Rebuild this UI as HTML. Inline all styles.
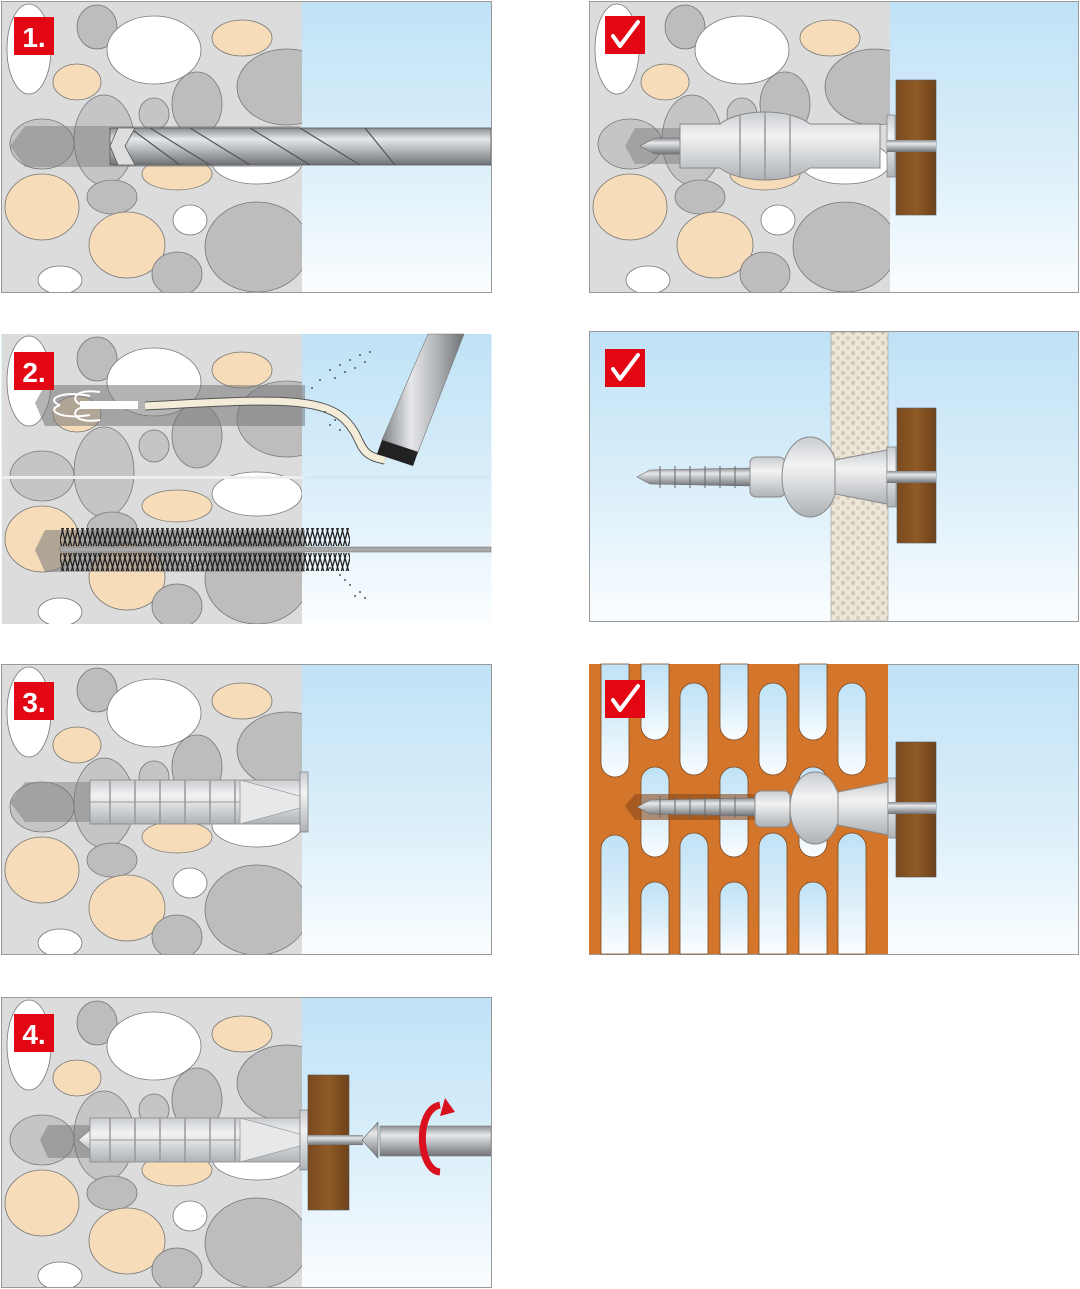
<!DOCTYPE html>
<html><head><meta charset="utf-8"><style>html,body{margin:0;padding:0;background:#fff}svg{display:block}</style></head><body>
<svg width="1080" height="1289" viewBox="0 0 1080 1289" xmlns="http://www.w3.org/2000/svg" font-family="Liberation Sans, sans-serif">
<defs>
<linearGradient id="sky" x1="0" y1="0" x2="0" y2="1"><stop offset="0" stop-color="#bfe2f6"/><stop offset="0.55" stop-color="#dceffa"/><stop offset="1" stop-color="#fafdff"/></linearGradient>
<linearGradient id="metal" x1="0" y1="0" x2="0" y2="1"><stop offset="0" stop-color="#8a8d91"/><stop offset="0.3" stop-color="#e6e8ea"/><stop offset="0.6" stop-color="#b4b7ba"/><stop offset="1" stop-color="#6f7276"/></linearGradient>
<linearGradient id="metalh" x1="0" y1="0" x2="1" y2="0"><stop offset="0" stop-color="#7d8085"/><stop offset="0.35" stop-color="#e6e8ea"/><stop offset="0.65" stop-color="#b4b7ba"/><stop offset="1" stop-color="#6f7276"/></linearGradient>
<linearGradient id="plastic" x1="0" y1="0" x2="0" y2="1"><stop offset="0" stop-color="#c9ccd0"/><stop offset="0.35" stop-color="#f2f3f4"/><stop offset="1" stop-color="#aeb2b6"/></linearGradient>
<linearGradient id="wood" x1="0" y1="0" x2="1" y2="0"><stop offset="0" stop-color="#7a4a1e"/><stop offset="0.5" stop-color="#8f5a26"/><stop offset="1" stop-color="#6e421b"/></linearGradient>
<clipPath id="wc" clipPathUnits="userSpaceOnUse"><rect x="0" y="0" width="300" height="290"/></clipPath>
<pattern id="dots" width="10" height="10" patternUnits="userSpaceOnUse"><rect width="10" height="10" fill="#ece6d8"/><circle cx="3" cy="3" r="2" fill="#cfc6b3"/><circle cx="8" cy="8" r="2" fill="#d6cdbb"/></pattern>
<pattern id="brist" width="5" height="18" patternUnits="userSpaceOnUse"><path d="M0,0 L5,18 M5,0 L0,18" stroke="#1e1e1e" stroke-width="1.3"/></pattern>
<g id="stones" stroke="#777" stroke-width="0.8">
<rect x="0" y="0" width="300" height="290" fill="#dcdcdd" stroke="none"/>
<ellipse cx="27" cy="47" rx="22" ry="45" fill="#fff"/>
<ellipse cx="95" cy="25" rx="20" ry="22" fill="#bdbdbd"/>
<ellipse cx="152" cy="48" rx="47" ry="34" fill="#fff"/>
<ellipse cx="240" cy="36" rx="30" ry="18" fill="#f6dcb9"/>
<ellipse cx="75" cy="80" rx="24" ry="18" fill="#f6dcb9"/>
<ellipse cx="285" cy="85" rx="50" ry="38" fill="#bdbdbd"/>
<ellipse cx="195" cy="102" rx="25" ry="32" fill="#bdbdbd"/>
<ellipse cx="152" cy="112" rx="15" ry="16" fill="#c5c5c5"/>
<ellipse cx="102" cy="138" rx="30" ry="45" fill="#c5c5c5"/>
<ellipse cx="40" cy="142" rx="32" ry="25" fill="#c5c5c5"/>
<ellipse cx="175" cy="172" rx="35" ry="16" fill="#f6dcb9"/>
<ellipse cx="255" cy="160" rx="45" ry="22" fill="#fff"/>
<ellipse cx="40" cy="205" rx="37" ry="33" fill="#f6dcb9"/>
<ellipse cx="110" cy="195" rx="25" ry="17" fill="#bdbdbd"/>
<ellipse cx="188" cy="218" rx="17" ry="15" fill="#fff"/>
<ellipse cx="125" cy="243" rx="38" ry="33" fill="#f6dcb9"/>
<ellipse cx="255" cy="245" rx="52" ry="45" fill="#bdbdbd"/>
<ellipse cx="58" cy="278" rx="22" ry="14" fill="#fff"/>
<ellipse cx="175" cy="272" rx="25" ry="22" fill="#bdbdbd"/>
</g>
<g id="dowel">
<rect x="90" y="-22" width="210" height="44" fill="url(#plastic)" stroke="#888" stroke-width="0.8"/>
<g stroke="#999" stroke-width="1.5"><line x1="110" y1="-22" x2="110" y2="22"/><line x1="135" y1="-22" x2="135" y2="22"/><line x1="160" y1="-22" x2="160" y2="22"/><line x1="185" y1="-22" x2="185" y2="22"/><line x1="210" y1="-22" x2="210" y2="22"/><line x1="235" y1="-22" x2="235" y2="22"/></g>
<line x1="90" y1="0" x2="300" y2="0" stroke="#999" stroke-width="1"/>
<polygon points="240,-22 300,-6 300,6 240,22" fill="#e6e8ea" stroke="#999" stroke-width="0.8"/>
<rect x="300" y="-30" width="8" height="60" fill="url(#plastic)" stroke="#888" stroke-width="0.8"/>
</g>
<g id="badgeck"><rect x="0" y="0" width="40" height="38" fill="#e30613"/><path d="M8,20 L15,30 L33,6" fill="none" stroke="#fff" stroke-width="4" stroke-linejoin="round" stroke-linecap="round"/></g>
</defs>

<!-- LEFT PANEL 1 -->
<rect x="1.5" y="1.5" width="490" height="291" fill="url(#sky)" stroke="#999"/>
<g transform="translate(2,2)" clip-path="url(#wc)"><use href="#stones"/></g>
<polygon points="10,146 25,126 300,126 300,167 25,167" fill="#777" opacity="0.45"/>
<rect x="110" y="128" width="381" height="37" fill="url(#metal)" stroke="#555" stroke-width="0.8"/>
<g stroke="#555" stroke-width="1.2" fill="none"><path d="M150,128 L210,165"/><path d="M190,128 L250,165"/><path d="M250,128 L310,165"/><path d="M300,128 L360,165"/><path d="M365,128 L395,165"/><path d="M130,128 L180,165"/></g>
<polygon points="110,146 118,128 135,128 125,146 135,165 118,165" fill="#ddd" stroke="#555" stroke-width="0.8"/>
<rect x="1.5" y="1.5" width="490" height="291" fill="none" stroke="#999"/>
<rect x="14" y="17" width="40" height="38" fill="#e30613"/><text x="34" y="47" font-size="28" font-weight="bold" fill="#fff" text-anchor="middle">1.</text>

<!-- LEFT PANEL 2 -->
<rect x="1.5" y="334" width="490" height="287" fill="url(#sky)"/>
<g transform="translate(2,334)"><g clip-path="url(#wc)"><use href="#stones"/></g></g>
<rect x="2" y="476" width="303" height="3" fill="#eee"/>
<rect x="305" y="476" width="186" height="3" fill="#d4e8f4"/>
<polygon points="35,403 45,385 305,385 305,426 45,426" fill="#777" opacity="0.55"/>
<path d="M145,406 C260,400 320,395 345,420 C365,440 355,455 385,460" fill="none" stroke="#555" stroke-width="9"/>
<path d="M145,406 C260,400 320,395 345,420 C365,440 355,455 385,460" fill="none" stroke="#f2ecd9" stroke-width="7"/>
<rect x="80" y="401" width="58" height="8" fill="#fff"/>
<g stroke="#fff" stroke-width="2" fill="none"><path d="M90,396 C60,390 45,400 60,405"/><path d="M90,415 C60,420 45,410 60,405"/><path d="M100,392 C75,388 70,400 80,404"/><path d="M100,420 C75,424 70,412 80,408"/></g>
<polygon points="428,334 464,334 418,452 382,440" fill="url(#metalh)" stroke="#777" stroke-width="0.6"/>
<polygon points="382,440 418,452 413,466 377,454" fill="#222"/>
<g fill="#555"><circle cx="320" cy="380" r="1"/><circle cx="330" cy="370" r="1"/><circle cx="340" cy="365" r="1"/><circle cx="350" cy="360" r="1"/><circle cx="360" cy="355" r="1"/><circle cx="335" cy="378" r="1"/><circle cx="345" cy="372" r="1"/><circle cx="355" cy="368" r="1"/><circle cx="365" cy="362" r="1"/><circle cx="370" cy="352" r="1"/><circle cx="312" cy="388" r="1"/><circle cx="325" cy="412" r="1"/><circle cx="335" cy="420" r="1"/><circle cx="340" cy="430" r="1"/><circle cx="330" cy="425" r="1"/><circle cx="320" cy="560" r="1"/><circle cx="330" cy="568" r="1"/><circle cx="340" cy="575" r="1"/><circle cx="350" cy="585" r="1"/><circle cx="360" cy="592" r="1"/><circle cx="345" cy="580" r="1"/><circle cx="365" cy="598" r="1"/><circle cx="355" cy="596" r="1"/></g>
<polygon points="35,550 45,530 305,530 305,572 45,572" fill="#777" opacity="0.55"/>
<rect x="60" y="528" width="290" height="18" fill="url(#brist)"/>
<rect x="60" y="553" width="290" height="18" fill="url(#brist)"/>
<rect x="60" y="547" width="431" height="5" fill="#aaa" stroke="#777" stroke-width="0.6"/>
<rect x="14" y="352" width="40" height="38" fill="#e30613"/><text x="34" y="382" font-size="28" font-weight="bold" fill="#fff" text-anchor="middle">2.</text>

<!-- LEFT PANEL 3 -->
<rect x="1.5" y="664.5" width="490" height="290" fill="url(#sky)" stroke="#999"/>
<g transform="translate(2,665)" clip-path="url(#wc)"><use href="#stones"/></g>
<polygon points="10,802 25,782 100,782 100,822 25,822" fill="#777" opacity="0.45"/>
<use href="#dowel" transform="translate(0,802)"/>
<rect x="1.5" y="664.5" width="490" height="290" fill="none" stroke="#999"/>
<rect x="14" y="682" width="40" height="38" fill="#e30613"/><text x="34" y="712" font-size="28" font-weight="bold" fill="#fff" text-anchor="middle">3.</text>

<!-- LEFT PANEL 4 -->
<rect x="1.5" y="997.5" width="490" height="290" fill="url(#sky)" stroke="#999"/>
<g transform="translate(2,998)" clip-path="url(#wc)"><use href="#stones"/></g>
<polygon points="40,1140 48,1125 90,1125 90,1158 48,1158" fill="#777" opacity="0.5"/>
<polygon points="78,1140 92,1128 118,1128 118,1152 92,1152" fill="url(#plastic)" stroke="#888"/>
<use href="#dowel" transform="translate(0,1140)"/>
<rect x="308" y="1075" width="41" height="135" fill="url(#wood)" stroke="#555" stroke-width="0.6"/>
<rect x="308" y="1135" width="55" height="10" fill="url(#metal)"/>
<polygon points="362,1140 378,1122 378,1158" fill="url(#metal)" stroke="#666" stroke-width="0.6"/>
<rect x="380" y="1126" width="111" height="30" fill="url(#metal)" stroke="#777" stroke-width="0.6"/>
<path d="M440,1105 C415,1110 418,1170 440,1172" fill="none" stroke="#d9101e" stroke-width="7"/>
<polygon points="445,1098 455,1112 440,1116" fill="#d9101e"/>
<rect x="1.5" y="997.5" width="490" height="290" fill="none" stroke="#999"/>
<rect x="14" y="1014" width="40" height="38" fill="#e30613"/><text x="34" y="1044" font-size="28" font-weight="bold" fill="#fff" text-anchor="middle">4.</text>

<!-- RIGHT PANEL 1 -->
<rect x="589.5" y="1.5" width="489" height="291" fill="url(#sky)" stroke="#999"/>
<g transform="translate(590,2)" clip-path="url(#wc)"><use href="#stones"/></g>
<polygon points="625,146 635,128 700,128 700,164 635,164" fill="#777" opacity="0.45"/>
<polygon points="640,146 655,138 690,138 690,154 655,154" fill="url(#metal)" stroke="#666" stroke-width="0.6"/>
<path d="M680,124 L720,124 C740,108 790,108 810,124 L880,124 L880,168 L810,168 C790,184 740,184 720,168 L680,168 Z" fill="url(#plastic)" stroke="#888"/>
<g stroke="#999" stroke-width="1.5"><line x1="740" y1="115" x2="740" y2="177"/><line x1="765" y1="112" x2="765" y2="180"/><line x1="790" y1="115" x2="790" y2="177"/></g>
<rect x="887" y="115" width="8" height="62" fill="url(#plastic)" stroke="#888" stroke-width="0.8"/>
<rect x="896" y="80" width="40" height="135" fill="url(#wood)" stroke="#555" stroke-width="0.6"/>
<rect x="887" y="140" width="49" height="12" fill="url(#metal)"/>
<use href="#badgeck" transform="translate(605,16)"/>

<!-- RIGHT PANEL 2 -->
<rect x="589.5" y="331.5" width="489" height="290" fill="url(#sky)" stroke="#999"/>
<rect x="831" y="332" width="57" height="289" fill="url(#dots)" stroke="#999" stroke-width="0.6"/>
<polygon points="637,477 650,470 750,468 750,486 650,484" fill="url(#metal)" stroke="#666" stroke-width="0.6"/>
<g stroke="#666" stroke-width="1"><line x1="660" y1="466" x2="660" y2="488"/><line x1="675" y1="466" x2="675" y2="488"/><line x1="690" y1="466" x2="690" y2="488"/><line x1="705" y1="466" x2="705" y2="488"/><line x1="720" y1="466" x2="720" y2="488"/><line x1="735" y1="466" x2="735" y2="488"/></g>
<rect x="750" y="457" width="35" height="40" rx="6" fill="url(#plastic)" stroke="#888"/>
<ellipse cx="810" cy="477" rx="28" ry="40" fill="url(#plastic)" stroke="#888"/>
<polygon points="835,460 887,450 887,504 835,494" fill="url(#plastic)" stroke="#888"/>
<rect x="887" y="447" width="9" height="60" fill="url(#plastic)" stroke="#888" stroke-width="0.8"/>
<rect x="897" y="408" width="39" height="135" fill="url(#wood)" stroke="#555" stroke-width="0.6"/>
<rect x="887" y="471" width="49" height="12" fill="url(#metal)"/>
<use href="#badgeck" transform="translate(605,349)"/>

<!-- RIGHT PANEL 3 -->
<rect x="589.5" y="664.5" width="489" height="290" fill="url(#sky)" stroke="#999"/>
<rect x="589" y="664" width="299" height="290" fill="#d3752b"/>
<g fill="url(#sky)" stroke="#7a4a22" stroke-width="0.8">
<path d="M601,664 V763 a14,14 0 0 0 28,0 V664 Z"/><path d="M601,954 V849 a14,14 0 0 1 28,0 V954 Z"/>
<path d="M641,664 V726 a14,14 0 0 0 28,0 V664 Z"/><rect x="641" y="767" width="28" height="90" rx="14"/><path d="M641,954 V896 a14,14 0 0 1 28,0 V954 Z"/>
<rect x="680" y="683" width="28" height="92" rx="14"/><path d="M680,954 V847 a14,14 0 0 1 28,0 V954 Z"/>
<path d="M720,664 V726 a14,14 0 0 0 28,0 V664 Z"/><rect x="720" y="767" width="28" height="90" rx="14"/><path d="M720,954 V896 a14,14 0 0 1 28,0 V954 Z"/>
<rect x="759" y="683" width="28" height="92" rx="14"/><path d="M759,954 V847 a14,14 0 0 1 28,0 V954 Z"/>
<path d="M799,664 V726 a14,14 0 0 0 28,0 V664 Z"/><rect x="799" y="767" width="28" height="90" rx="14"/><path d="M799,954 V896 a14,14 0 0 1 28,0 V954 Z"/>
<rect x="838" y="683" width="28" height="92" rx="14"/><path d="M838,954 V847 a14,14 0 0 1 28,0 V954 Z"/>
</g>
<polygon points="625,806 635,794 760,794 760,820 635,820" fill="#8a4a1a" opacity="0.6"/>
<polygon points="637,807 650,800 755,798 755,816 650,814" fill="url(#metal)" stroke="#666" stroke-width="0.6"/>
<g stroke="#666" stroke-width="1"><line x1="660" y1="796" x2="660" y2="818"/><line x1="675" y1="796" x2="675" y2="818"/><line x1="690" y1="796" x2="690" y2="818"/><line x1="705" y1="796" x2="705" y2="818"/><line x1="720" y1="796" x2="720" y2="818"/><line x1="735" y1="796" x2="735" y2="818"/></g>
<rect x="755" y="791" width="35" height="36" rx="6" fill="url(#plastic)" stroke="#888"/>
<ellipse cx="815" cy="808" rx="25" ry="36" fill="url(#plastic)" stroke="#888"/>
<polygon points="838,792 888,782 888,835 838,825" fill="url(#plastic)" stroke="#888"/>
<rect x="888" y="778" width="8" height="60" fill="url(#plastic)" stroke="#888" stroke-width="0.8"/>
<rect x="896" y="742" width="40" height="135" fill="url(#wood)" stroke="#555" stroke-width="0.6"/>
<rect x="888" y="802" width="48" height="12" fill="url(#metal)"/>
<use href="#badgeck" transform="translate(605,680)"/>
</svg>
</body></html>
